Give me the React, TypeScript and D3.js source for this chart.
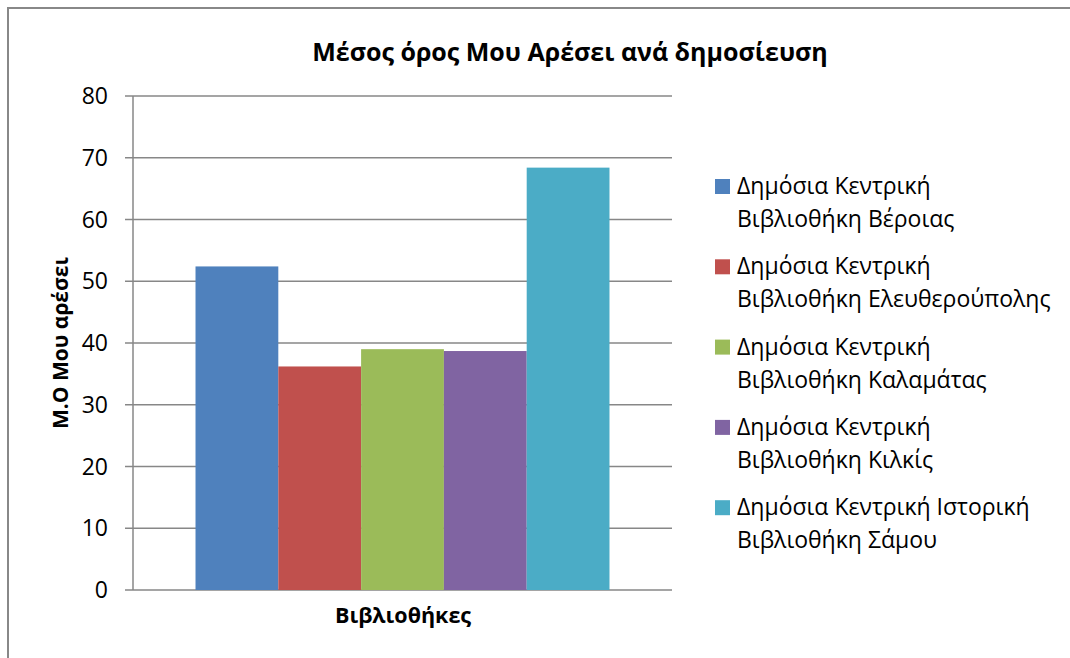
import React, { useEffect, useRef } from "react";
import * as d3 from "d3";

const libraries = [
  "Δημόσια Κεντρική Βιβλιοθήκη Βέροιας",
  "Δημόσια Κεντρική Βιβλιοθήκη Ελευθερούπολης",
  "Δημόσια Κεντρική Βιβλιοθήκη Καλαμάτας",
  "Δημόσια Κεντρική Βιβλιοθήκη Κιλκίς",
  "Δημόσια Κεντρική Ιστορική Βιβλιοθήκη Σάμου",
];
// legend is wrapped on two lines like the original
const legendLines = [
  ["Δημόσια Κεντρική", "Βιβλιοθήκη Βέροιας"],
  ["Δημόσια Κεντρική", "Βιβλιοθήκη Ελευθερούπολης"],
  ["Δημόσια Κεντρική", "Βιβλιοθήκη Καλαμάτας"],
  ["Δημόσια Κεντρική", "Βιβλιοθήκη Κιλκίς"],
  ["Δημόσια Κεντρική Ιστορική", "Βιβλιοθήκη Σάμου"],
];
const likes = [52.4, 36.2, 39.0, 38.7, 68.4];
const colors = ["#4f81bd", "#c0504d", "#9bbb59", "#8064a2", "#4bacc6"];
const yTicks = [0, 10, 20, 30, 40, 50, 60, 70, 80];

const FONT = "'Open Sans', 'Noto Sans', sans-serif";

export default function App() {
  const ref = useRef<SVGSVGElement>(null);

  useEffect(() => {
    const svg = d3.select(ref.current);
    svg.selectAll("*").remove();

    const width = 1070;
    const height = 658;
    const plot = { left: 133, right: 672, top: 96, bottom: 590 };

    // outer chart border (only left & top are visible in the crop)
    svg
      .append("path")
      .attr("d", `M8,${height} L8,8 L${width},8`)
      .attr("fill", "none")
      .attr("stroke", "#888")
      .attr("stroke-width", 2);

    svg
      .append("text")
      .attr("x", 570)
      .attr("y", 61)
      .attr("text-anchor", "middle")
      .style("font-family", FONT)
      .style("font-size", "25px")
      .style("font-weight", "bold")
      .text("Μέσος όρος Μου Αρέσει ανά δημοσίευση");

    const y = d3.scaleLinear().domain([0, 80]).range([plot.bottom, plot.top]);

    const x0 = d3
      .scaleBand()
      .domain(["Βιβλιοθήκες"])
      .range([plot.left, plot.right])
      .paddingInner(0)
      .paddingOuter(0.151);
    const x1 = d3
      .scaleBand()
      .domain(libraries)
      .range([x0("Βιβλιοθήκες")!, x0("Βιβλιοθήκες")! + x0.bandwidth()]);

    const g = svg.append("g");

    // gridlines + ticks
    g.append("g")
      .selectAll("line")
      .data(yTicks)
      .join("line")
      .attr("x1", plot.left - 8)
      .attr("x2", plot.right)
      .attr("y1", (d) => y(d))
      .attr("y2", (d) => y(d))
      .attr("stroke", "#878787")
      .attr("stroke-width", 1.5);

    g.append("line")
      .attr("x1", plot.left)
      .attr("x2", plot.left)
      .attr("y1", plot.top)
      .attr("y2", plot.bottom)
      .attr("stroke", "#878787")
      .attr("stroke-width", 1.5);

    g.append("g")
      .selectAll("text")
      .data(yTicks)
      .join("text")
      .attr("x", 108)
      .attr("y", (d) => y(d))
      .attr("dy", "0.35em")
      .attr("text-anchor", "end")
      .style("font-family", FONT)
      .style("font-size", "23px")
      .text((d) => d);

    // bars
    g.append("g")
      .selectAll("rect")
      .data(likes)
      .join("rect")
      .attr("x", (d, i) => x1(libraries[i])!)
      .attr("width", x1.bandwidth())
      .attr("y", (d) => y(d))
      .attr("height", (d) => y(0) - y(d))
      .attr("fill", (d, i) => colors[i]);

    // axis titles
    svg
      .append("text")
      .attr("x", 403)
      .attr("y", 623)
      .attr("text-anchor", "middle")
      .style("font-family", FONT)
      .style("font-size", "21.5px")
      .style("font-weight", "bold")
      .text("Βιβλιοθήκες");

    svg
      .append("text")
      .attr("transform", "translate(68,343) rotate(-90)")
      .attr("text-anchor", "middle")
      .style("font-family", FONT)
      .style("font-size", "21px")
      .style("font-weight", "bold")
      .text("Μ.Ο Μου αρέσει");

    // legend
    const legend = svg
      .append("g")
      .selectAll("g")
      .data(legendLines)
      .join("g")
      .attr("transform", (d, i) => `translate(715,${186 + i * 80.3})`);

    legend
      .append("rect")
      .attr("x", 0)
      .attr("y", -7)
      .attr("width", 15)
      .attr("height", 15)
      .attr("fill", (d, i) => colors[i]);

    legend
      .append("text")
      .style("font-family", FONT)
      .style("font-size", "23px")
      .selectAll("tspan")
      .data((d) => d)
      .join("tspan")
      .attr("x", 22)
      .attr("y", (d, i) => i * 33)
      .attr("dy", "0.35em")
      .text((d) => d);
  }, []);

  return (
    <svg
      ref={ref}
      width={1070}
      height={658}
      style={{ position: "absolute", left: 0, top: 0, background: "#fff" }}
    />
  );
}
